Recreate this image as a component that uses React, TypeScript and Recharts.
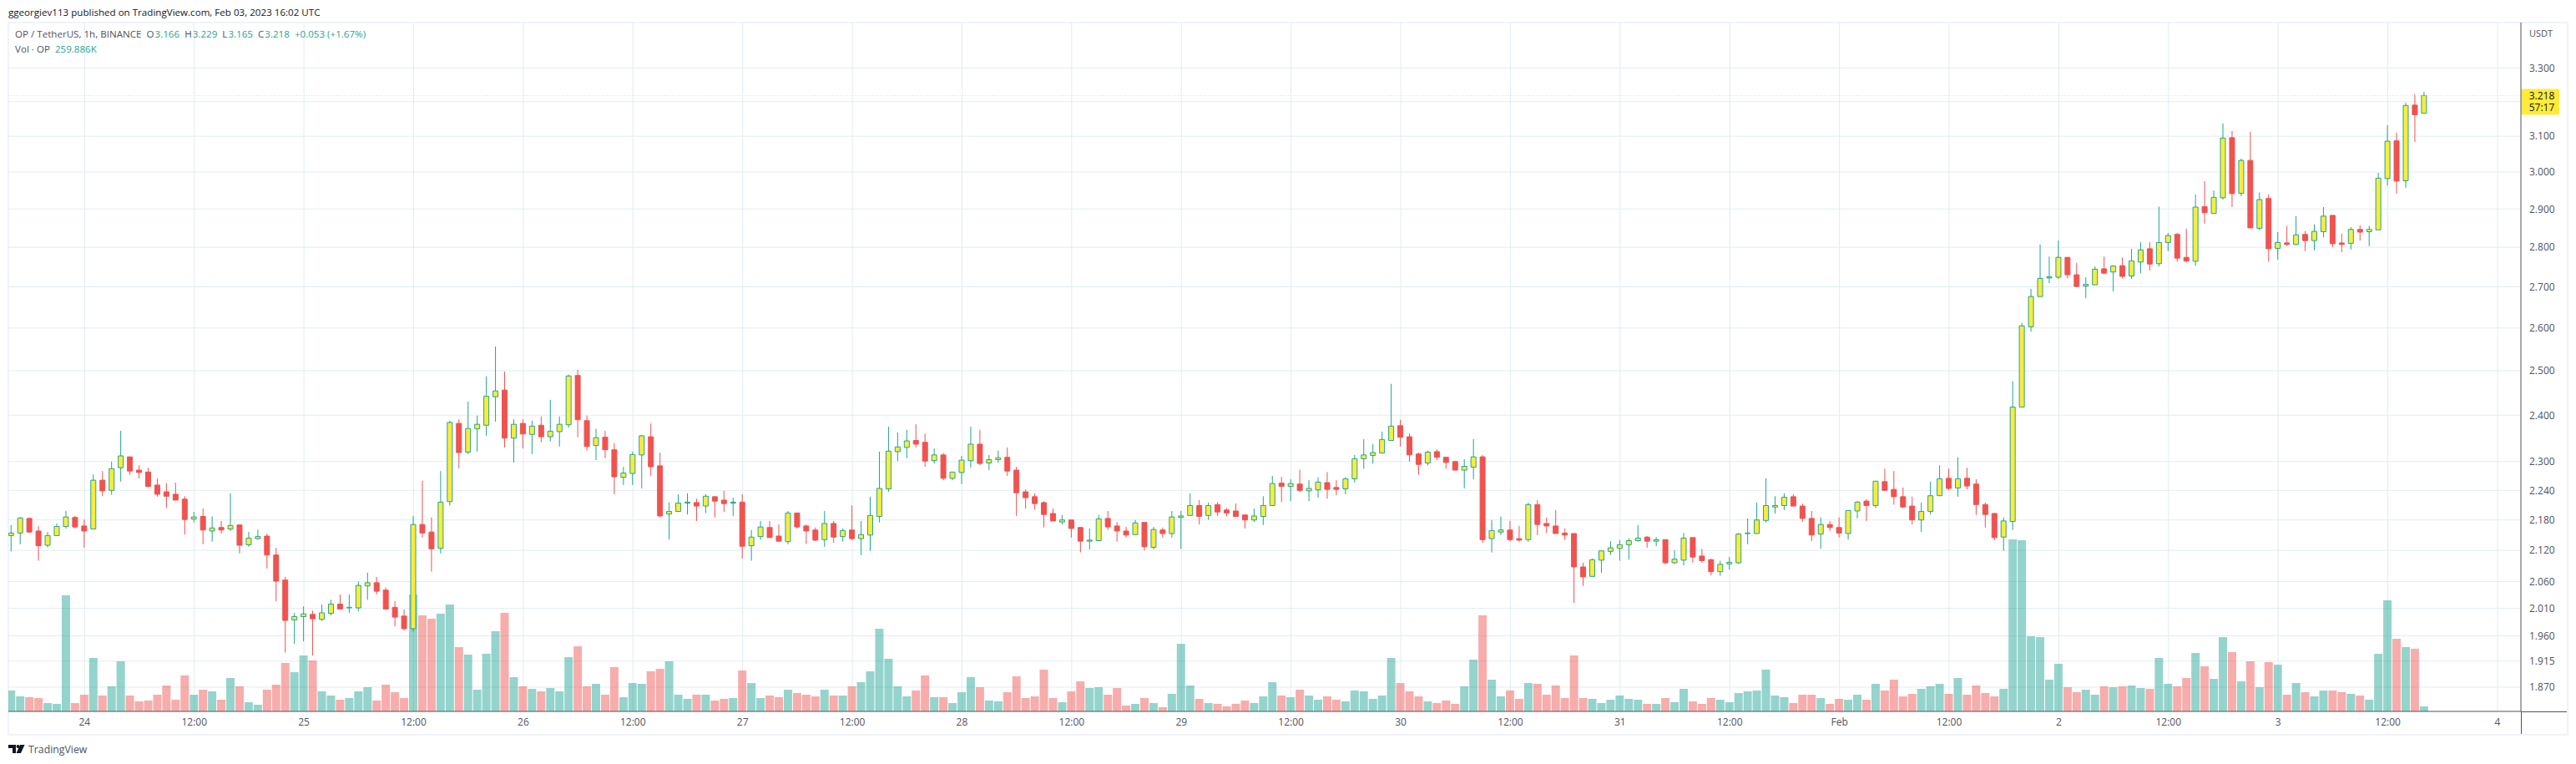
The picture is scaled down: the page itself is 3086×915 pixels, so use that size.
import { Bar, CartesianGrid, Cell, ComposedChart, ReferenceLine, XAxis, YAxis } from 'recharts';

// hourly candles, Jan 23 16:00 -> Feb 3 16:00 (OP/USDT)
const opens = [
  2.149, 2.154, 2.183, 2.158, 2.130, 2.149, 2.167, 2.185, 2.168, 2.162,
  2.261, 2.240, 2.287, 2.310, 2.282, 2.278, 2.251, 2.237, 2.232, 2.222,
  2.182, 2.187, 2.158, 2.165, 2.162, 2.170, 2.131, 2.143, 2.148, 2.111,
  2.063, 1.989, 1.995, 1.999, 1.990, 2.001, 2.018, 2.011, 2.011, 2.052,
  2.058, 2.044, 2.012, 1.996, 1.973, 2.171, 2.156, 2.124, 2.217, 2.382,
  2.320, 2.370, 2.378, 2.441, 2.456, 2.350, 2.382, 2.358, 2.378, 2.353,
  2.364, 2.379, 2.489, 2.388, 2.334, 2.352, 2.325, 2.267, 2.275, 2.314,
  2.353, 2.291, 2.192, 2.197, 2.214, 2.215, 2.208, 2.227, 2.220, 2.214,
  2.216, 2.129, 2.147, 2.165, 2.148, 2.137, 2.194, 2.168, 2.160, 2.141,
  2.173, 2.147, 2.160, 2.143, 2.150, 2.187, 2.243, 2.321, 2.330, 2.345,
  2.341, 2.302, 2.314, 2.265, 2.277, 2.302, 2.337, 2.297, 2.304, 2.309,
  2.282, 2.237, 2.227, 2.215, 2.193, 2.176, 2.180, 2.165, 2.138, 2.139,
  2.183, 2.168, 2.158, 2.151, 2.175, 2.126, 2.160, 2.153, 2.185, 2.189,
  2.209, 2.189, 2.211, 2.200, 2.198, 2.190, 2.180, 2.187, 2.209, 2.255,
  2.248, 2.253, 2.239, 2.241, 2.256, 2.246, 2.243, 2.264, 2.306, 2.313,
  2.318, 2.345, 2.377, 2.353, 2.316, 2.297, 2.321, 2.309, 2.300, 2.282,
  2.288, 2.310, 2.143, 2.156, 2.160, 2.143, 2.141, 2.211, 2.173, 2.168,
  2.154, 2.153, 2.088, 2.070, 2.101, 2.118, 2.124, 2.131, 2.139, 2.146,
  2.138, 2.141, 2.096, 2.101, 2.145, 2.109, 2.102, 2.079, 2.094, 2.096,
  2.153, 2.153, 2.179, 2.206, 2.209, 2.227, 2.208, 2.183, 2.152, 2.171,
  2.165, 2.153, 2.198, 2.218, 2.209, 2.258, 2.242, 2.227, 2.208, 2.180,
  2.197, 2.229, 2.265, 2.245, 2.265, 2.253, 2.211, 2.193, 2.146, 2.177,
  2.418, 2.603, 2.676, 2.722, 2.724, 2.774, 2.730, 2.702, 2.705, 2.745,
  2.737, 2.753, 2.727, 2.762, 2.796, 2.758, 2.812, 2.833, 2.774, 2.764,
  2.906, 2.888, 2.930, 3.096, 2.942, 3.032, 2.849, 2.928, 2.797, 2.811,
  2.807, 2.833, 2.817, 2.840, 2.883, 2.811, 2.810, 2.846, 2.840, 2.845,
  2.982, 3.087, 2.976, 3.190, 3.166,
];

const highs = [
  2.170, 2.186, 2.185, 2.168, 2.156, 2.173, 2.198, 2.188, 2.181, 2.273,
  2.280, 2.300, 2.366, 2.310, 2.292, 2.287, 2.265, 2.255, 2.256, 2.228,
  2.196, 2.203, 2.187, 2.178, 2.234, 2.170, 2.156, 2.161, 2.153, 2.125,
  2.069, 2.002, 2.014, 2.006, 2.017, 2.026, 2.036, 2.036, 2.060, 2.077,
  2.069, 2.049, 2.023, 2.008, 2.188, 2.260, 2.185, 2.280, 2.388, 2.391,
  2.430, 2.399, 2.487, 2.556, 2.498, 2.391, 2.391, 2.388, 2.397, 2.434,
  2.397, 2.491, 2.502, 2.399, 2.370, 2.366, 2.339, 2.289, 2.321, 2.357,
  2.382, 2.319, 2.215, 2.232, 2.234, 2.223, 2.232, 2.228, 2.239, 2.225,
  2.232, 2.160, 2.178, 2.178, 2.171, 2.198, 2.194, 2.171, 2.165, 2.198,
  2.178, 2.163, 2.209, 2.178, 2.227, 2.321, 2.375, 2.362, 2.368, 2.380,
  2.360, 2.328, 2.318, 2.278, 2.312, 2.375, 2.368, 2.314, 2.323, 2.330,
  2.289, 2.242, 2.234, 2.218, 2.203, 2.190, 2.180, 2.165, 2.163, 2.190,
  2.198, 2.176, 2.166, 2.180, 2.175, 2.166, 2.165, 2.198, 2.198, 2.234,
  2.220, 2.215, 2.216, 2.204, 2.213, 2.191, 2.203, 2.228, 2.270, 2.268,
  2.263, 2.283, 2.261, 2.267, 2.278, 2.261, 2.267, 2.314, 2.348, 2.337,
  2.364, 2.470, 2.390, 2.360, 2.319, 2.323, 2.326, 2.310, 2.301, 2.305,
  2.348, 2.314, 2.180, 2.187, 2.178, 2.168, 2.215, 2.220, 2.185, 2.200,
  2.163, 2.153, 2.096, 2.104, 2.119, 2.138, 2.140, 2.143, 2.170, 2.148,
  2.146, 2.141, 2.120, 2.154, 2.145, 2.123, 2.104, 2.100, 2.107, 2.154,
  2.183, 2.215, 2.265, 2.228, 2.234, 2.232, 2.213, 2.198, 2.185, 2.178,
  2.185, 2.199, 2.218, 2.222, 2.259, 2.285, 2.280, 2.246, 2.227, 2.215,
  2.258, 2.292, 2.285, 2.309, 2.287, 2.263, 2.215, 2.194, 2.185, 2.476,
  2.612, 2.695, 2.807, 2.776, 2.817, 2.774, 2.760, 2.724, 2.751, 2.776,
  2.754, 2.774, 2.796, 2.813, 2.813, 2.906, 2.837, 2.837, 2.848, 2.939,
  2.975, 2.950, 3.137, 3.115, 3.037, 3.113, 2.944, 2.939, 2.839, 2.855,
  2.881, 2.842, 2.859, 2.905, 2.883, 2.835, 2.852, 2.857, 2.855, 2.998,
  3.132, 3.110, 3.197, 3.222, 3.229,
];

const lows = [
  2.118, 2.132, 2.154, 2.100, 2.126, 2.149, 2.163, 2.163, 2.125, 2.162,
  2.228, 2.231, 2.258, 2.272, 2.265, 2.246, 2.227, 2.204, 2.220, 2.151,
  2.175, 2.132, 2.137, 2.153, 2.158, 2.114, 2.127, 2.141, 2.085, 2.023,
  1.930, 1.946, 1.950, 1.925, 1.987, 1.997, 2.009, 2.002, 2.005, 2.026,
  2.036, 2.009, 1.977, 1.970, 1.967, 2.145, 2.079, 2.114, 2.209, 2.286,
  2.316, 2.321, 2.355, 2.386, 2.330, 2.298, 2.328, 2.316, 2.341, 2.343,
  2.332, 2.373, 2.352, 2.323, 2.303, 2.307, 2.232, 2.251, 2.251, 2.244,
  2.270, 2.185, 2.141, 2.196, 2.191, 2.178, 2.194, 2.185, 2.196, 2.188,
  2.104, 2.100, 2.141, 2.145, 2.137, 2.132, 2.163, 2.133, 2.138, 2.127,
  2.135, 2.137, 2.140, 2.111, 2.119, 2.175, 2.237, 2.301, 2.307, 2.330,
  2.289, 2.296, 2.261, 2.261, 2.253, 2.287, 2.292, 2.282, 2.298, 2.270,
  2.188, 2.203, 2.201, 2.165, 2.178, 2.171, 2.145, 2.116, 2.122, 2.139,
  2.160, 2.137, 2.145, 2.150, 2.120, 2.122, 2.145, 2.145, 2.123, 2.189,
  2.171, 2.180, 2.188, 2.187, 2.187, 2.163, 2.176, 2.170, 2.209, 2.216,
  2.218, 2.237, 2.218, 2.225, 2.223, 2.230, 2.232, 2.256, 2.285, 2.296,
  2.318, 2.345, 2.332, 2.300, 2.272, 2.292, 2.303, 2.285, 2.282, 2.244,
  2.263, 2.135, 2.116, 2.150, 2.137, 2.137, 2.137, 2.150, 2.154, 2.153,
  2.140, 2.020, 2.052, 2.070, 2.077, 2.111, 2.100, 2.102, 2.137, 2.125,
  2.128, 2.093, 2.094, 2.091, 2.096, 2.096, 2.072, 2.071, 2.083, 2.094,
  2.132, 2.153, 2.175, 2.193, 2.200, 2.208, 2.176, 2.138, 2.123, 2.158,
  2.145, 2.141, 2.183, 2.178, 2.204, 2.240, 2.211, 2.204, 2.171, 2.156,
  2.191, 2.229, 2.240, 2.227, 2.242, 2.190, 2.165, 2.140, 2.119, 2.160,
  2.418, 2.591, 2.676, 2.709, 2.720, 2.721, 2.699, 2.672, 2.705, 2.732,
  2.689, 2.721, 2.720, 2.734, 2.741, 2.751, 2.790, 2.763, 2.761, 2.753,
  2.861, 2.888, 2.925, 2.905, 2.934, 2.850, 2.844, 2.763, 2.768, 2.803,
  2.805, 2.790, 2.792, 2.826, 2.800, 2.787, 2.794, 2.817, 2.803, 2.845,
  2.963, 2.941, 2.957, 3.084, 3.165,
];

const closes = [
  2.154, 2.184, 2.156, 2.129, 2.149, 2.167, 2.186, 2.166, 2.158, 2.261,
  2.239, 2.285, 2.312, 2.280, 2.277, 2.248, 2.232, 2.228, 2.220, 2.181,
  2.186, 2.160, 2.164, 2.160, 2.169, 2.130, 2.144, 2.147, 2.111, 2.061,
  1.988, 1.995, 2.000, 1.991, 2.002, 2.018, 2.009, 2.012, 2.053, 2.058,
  2.042, 2.009, 1.994, 1.973, 2.171, 2.154, 2.123, 2.216, 2.384, 2.319,
  2.371, 2.380, 2.442, 2.454, 2.350, 2.380, 2.359, 2.376, 2.353, 2.365,
  2.380, 2.488, 2.390, 2.332, 2.351, 2.325, 2.268, 2.276, 2.315, 2.355,
  2.289, 2.188, 2.197, 2.214, 2.216, 2.208, 2.228, 2.218, 2.213, 2.216,
  2.128, 2.146, 2.166, 2.145, 2.138, 2.194, 2.166, 2.158, 2.140, 2.173,
  2.146, 2.159, 2.143, 2.151, 2.189, 2.244, 2.322, 2.331, 2.344, 2.337,
  2.301, 2.314, 2.265, 2.278, 2.303, 2.337, 2.296, 2.304, 2.308, 2.280,
  2.235, 2.225, 2.213, 2.191, 2.178, 2.180, 2.163, 2.138, 2.140, 2.182,
  2.166, 2.158, 2.150, 2.174, 2.127, 2.161, 2.153, 2.186, 2.188, 2.209,
  2.187, 2.209, 2.196, 2.194, 2.187, 2.180, 2.188, 2.209, 2.254, 2.248,
  2.254, 2.240, 2.244, 2.257, 2.242, 2.242, 2.264, 2.306, 2.314, 2.319,
  2.347, 2.376, 2.352, 2.314, 2.294, 2.320, 2.309, 2.298, 2.282, 2.290,
  2.310, 2.141, 2.159, 2.160, 2.141, 2.140, 2.211, 2.171, 2.168, 2.153,
  2.150, 2.088, 2.069, 2.102, 2.119, 2.125, 2.131, 2.139, 2.144, 2.138,
  2.141, 2.096, 2.103, 2.144, 2.107, 2.100, 2.079, 2.093, 2.097, 2.152,
  2.154, 2.180, 2.209, 2.209, 2.226, 2.208, 2.183, 2.150, 2.171, 2.165,
  2.154, 2.199, 2.216, 2.209, 2.259, 2.240, 2.227, 2.206, 2.180, 2.197,
  2.229, 2.264, 2.244, 2.264, 2.249, 2.211, 2.191, 2.145, 2.178, 2.418,
  2.605, 2.676, 2.721, 2.725, 2.774, 2.730, 2.701, 2.706, 2.744, 2.734,
  2.752, 2.726, 2.765, 2.793, 2.757, 2.812, 2.830, 2.772, 2.765, 2.905,
  2.890, 2.931, 3.095, 2.941, 3.032, 2.850, 2.925, 2.796, 2.812, 2.807,
  2.832, 2.817, 2.841, 2.881, 2.809, 2.807, 2.846, 2.839, 2.846, 2.983,
  3.086, 2.975, 3.189, 3.162, 3.218,
];

// volume, thousands of OP
const volumes = [
  1082, 779, 736, 693, 433, 390, 6017, 433, 866, 2771,
  823, 1299, 2597, 823, 519, 563, 866, 1342, 606, 1861,
  866, 1126, 1039, 606, 1732, 1299, 476, 346, 1126, 1385,
  2511, 2035, 2900, 2641, 1039, 823, 606, 693, 1039, 1255,
  563, 1385, 996, 693, 6061, 4978, 4805, 5065, 5541, 3333,
  2944, 1126, 2987, 4156, 5108, 1775, 1299, 1169, 1039, 1212,
  1039, 2814, 3377, 1299, 1429, 866, 2294, 736, 1472, 1429,
  2078, 2208, 2597, 866, 649, 866, 866, 563, 649, 693,
  2121, 1472, 693, 823, 736, 1126, 952, 866, 779, 1126,
  823, 823, 1299, 1515, 2078, 4286, 2727, 1299, 779, 1082,
  1861, 736, 736, 433, 996, 1775, 1255, 563, 519, 996,
  1818, 693, 779, 2165, 693, 476, 1039, 1558, 1212, 1255,
  866, 1212, 303, 390, 693, 433, 216, 909, 3506, 1342,
  649, 433, 390, 260, 390, 563, 433, 779, 1515, 823,
  736, 1126, 823, 606, 779, 606, 519, 1082, 1039, 649,
  823, 2771, 1472, 1039, 779, 519, 433, 563, 390, 1299,
  2684, 4978, 1645, 779, 1082, 649, 1472, 1429, 866, 1342,
  693, 2900, 693, 649, 433, 606, 823, 649, 606, 390,
  390, 693, 476, 1169, 519, 390, 693, 606, 476, 952,
  1039, 1082, 2165, 823, 736, 433, 866, 866, 693, 390,
  649, 606, 866, 606, 1429, 1082, 1645, 779, 909, 1169,
  1299, 1429, 909, 1732, 866, 1342, 952, 779, 1169, 8918,
  8874, 3896, 3853, 1645, 2468, 1255, 996, 1126, 866, 1299,
  1255, 1299, 1342, 1212, 1169, 2771, 1429, 1299, 1732, 3030,
  2338, 1688, 3853, 3074, 1558, 2597, 1255, 2554, 2424, 866,
  1472, 996, 779, 1082, 1082, 996, 909, 823, 606, 2987,
  5758, 3766, 3333, 3247, 260,
];

const priceTicks = [3.3, 3.2, 3.1, 3.0, 2.9, 2.8, 2.7, 2.6, 2.5, 2.4, 2.3, 2.24, 2.18, 2.12, 2.06, 2.01, 1.96, 1.915, 1.87];
const timeSlots = [8, 20, 32, 44, 56, 68, 80, 92, 104, 116, 128, 140, 152, 164, 176, 188, 200, 212, 224, 236, 248, 260, 272];
const timeLabels = ['24', '12:00', '25', '12:00', '26', '12:00', '27', '12:00', '28', '12:00', '29', '12:00', '30', '12:00', '31', '12:00', 'Feb', '12:00', '2', '12:00', '3', '12:00', '4'];

const lastPrice = 3.218;
const countdown = '57:17';

const rows = opens.map((open, i) => ({ i, open, high: highs[i], low: lows[i], close: closes[i], volume: volumes[i] }));

const UP = '#1fa594';
const DOWN = '#ef5350';
const YELLOW = '#ffeb3b';
const FONT = '"Open Sans", sans-serif';
const TEXT_SIZE = 11.6;
const xDomain = [-0.34, 274.56];
const priceDomain = [1.8288, 3.441];

const Wick = ({ x, y, width, height, payload }: any) => (
  <rect x={x + width / 2 - 0.5} y={y} width={1} height={height} fill={payload.close >= payload.open ? UP : DOWN} />
);

const PriceTag = ({ viewBox }: any) => {
  const right = viewBox.x + viewBox.width;
  return (
    <g>
      <rect x={right} y={viewBox.y - 8} width={46} height={31} rx={2} fill={YELLOW} />
      <text x={right + 25} y={viewBox.y + 5} textAnchor="middle" fontSize={12} fontFamily={FONT} fill="#131722">
        {lastPrice.toFixed(3)}
      </text>
      <text x={right + 25} y={viewBox.y + 19} textAnchor="middle" fontSize={12} fontFamily={FONT} fill="#131722">
        {countdown}
      </text>
    </g>
  );
};

const hiddenX = (id: string) => (
  <XAxis xAxisId={id} type="number" dataKey="i" domain={xDomain} allowDataOverflow hide height={0} />
);

const box = (left: number, top: number, width: number, height: number, background: string) => (
  <div style={{ position: 'absolute', left, top, width, height, background }} />
);

const legendValue = { color: UP, marginLeft: 1 };

export default function App() {
  return (
    <div style={{ position: 'absolute', left: 0, top: 0, width: 3086, height: 915, background: '#fff', fontFamily: FONT, overflow: 'hidden' }}>
      <div style={{ position: 'absolute', left: 10, top: 7, fontSize: TEXT_SIZE, color: '#131722', whiteSpace: 'nowrap' }}>
        ggeorgiev113 published on TradingView.com, Feb 03, 2023 16:02 UTC
      </div>

      {box(9, 26, 3068, 2, '#f0f3fa')}
      {box(9, 26, 2, 855, '#f0f3fa')}
      {box(9, 879, 3068, 2, '#f0f3fa')}
      {box(3075, 26, 2, 855, '#f0f3fa')}

      <ComposedChart
        width={3086}
        height={915}
        data={rows}
        margin={{ top: 27, right: 0, bottom: 36, left: 10 }}
        style={{ position: 'absolute', left: 0, top: 0 }}
      >
        <XAxis
          xAxisId="main"
          type="number"
          dataKey="i"
          domain={xDomain}
          allowDataOverflow
          ticks={timeSlots}
          interval={0}
          height={27}
          tickLine={false}
          tickSize={0}
          tickMargin={8}
          axisLine={{ stroke: '#50535e' }}
          tick={{ fontSize: 12, fontFamily: FONT, fill: '#50535e' }}
          tickFormatter={(v: number) => timeLabels[timeSlots.indexOf(v)]}
        />
        {hiddenX('vol')}
        {hiddenX('wick')}
        {hiddenX('body')}
        <YAxis
          yAxisId="price"
          orientation="right"
          scale="log"
          domain={priceDomain}
          allowDataOverflow
          ticks={priceTicks}
          interval={0}
          width={66}
          tickLine={false}
          tickSize={0}
          tickMargin={10}
          axisLine={{ stroke: '#50535e' }}
          tick={{ fontSize: 12, fontFamily: FONT, fill: '#50535e' }}
          tickFormatter={(v: number) => (v === 3.2 ? '' : v.toFixed(3))}
        />
        <YAxis yAxisId="vol" hide width={0} domain={[0, 35700]} />
        <CartesianGrid
          xAxisId="main"
          yAxisId="price"
          stroke="#e1ecf2"
          horizontalValues={priceTicks}
          verticalValues={timeSlots}
        />
        <Bar xAxisId="vol" yAxisId="vol" dataKey="volume" barSize={10} isAnimationActive={false}>
          {rows.map((d) => (
            <Cell key={d.i} fill={d.close >= d.open ? UP : DOWN} fillOpacity={0.48} />
          ))}
        </Bar>
        <Bar
          xAxisId="wick"
          yAxisId="price"
          dataKey={(d: any) => [d.low, d.high]}
          barSize={6}
          shape={Wick}
          isAnimationActive={false}
        />
        <Bar
          xAxisId="body"
          yAxisId="price"
          dataKey={(d: any) => [Math.min(d.open, d.close), Math.max(d.open, d.close)]}
          barSize={6}
          isAnimationActive={false}
        >
          {rows.map((d) => (
            <Cell key={d.i} fill={d.close >= d.open ? YELLOW : DOWN} stroke={d.close >= d.open ? UP : DOWN} strokeWidth={1} />
          ))}
        </Bar>
        <ReferenceLine
          xAxisId="main"
          yAxisId="price"
          y={lastPrice}
          stroke={YELLOW}
          strokeDasharray="1 2"
          label={PriceTag}
        />
      </ComposedChart>

      {box(3020, 852, 55, 1, '#50535e')}
      {box(3020, 852, 1, 27, '#50535e')}

      <div style={{ position: 'absolute', left: 3030, top: 32, fontSize: 11, color: '#50535e' }}>USDT</div>

      <div style={{ position: 'absolute', left: 18, top: 33, fontSize: TEXT_SIZE, color: '#50535e', whiteSpace: 'pre' }}>
        OP / TetherUS, 1h, BINANCE{'  '}O<span style={legendValue}>3.166</span>{'  '}H<span style={legendValue}>3.229</span>{'  '}L
        <span style={legendValue}>3.165</span>{'  '}C<span style={legendValue}>3.218</span>{'  '}
        <span style={{ color: UP }}>+0.053 (+1.67%)</span>
      </div>
      <div style={{ position: 'absolute', left: 18, top: 51, fontSize: TEXT_SIZE, color: '#50535e', whiteSpace: 'pre' }}>
        Vol · OP{'  '}<span style={{ color: UP }}>259.886K</span>
      </div>

      <svg style={{ position: 'absolute', left: 10, top: 892 }} width={20} height={11}>
        <path d="M0 0H9V10H5V4H0Z" fill="#131722" />
        <circle cx={11.5} cy={2} r={2} fill="#131722" />
        <path d="M14 0H19.5L15 10H9.5Z" fill="#131722" />
      </svg>
      <div style={{ position: 'absolute', left: 34, top: 889, fontSize: 12.3, color: '#50535e' }}>TradingView</div>
    </div>
  );
}
